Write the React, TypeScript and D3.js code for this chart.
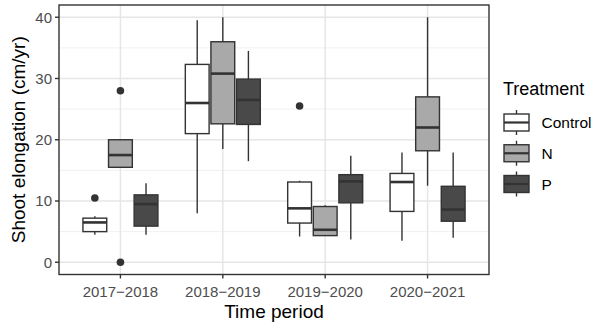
import * as d3 from "d3";

const categories = ["2017−2018", "2018−2019", "2019−2020", "2020−2021"];
const treatments = ["Control", "N", "P"];
const fills = ["#ffffff", "#a9a9a9", "#494949"];

// [lower whisker, q1, median, q3, upper whisker] per period
const controlStats = [
  [4.5, 5.0, 6.5, 7.2, 7.5],
  [8.0, 21.0, 26.0, 32.3, 39.5],
  [4.2, 6.4, 8.8, 13.1, 13.3],
  [3.5, 8.3, 13.1, 14.5, 17.9],
];
const nStats = [
  [15.5, 15.5, 17.5, 20.0, 20.0],
  [18.5, 22.6, 30.8, 36.0, 40.0],
  [4.3, 4.35, 5.3, 9.1, 9.3],
  [12.5, 18.2, 22.0, 27.0, 40.0],
];
const pStats = [
  [4.5, 5.9, 9.5, 11.0, 12.9],
  [16.5, 22.5, 26.5, 29.9, 34.5],
  [3.7, 9.7, 13.2, 14.3, 17.4],
  [4.0, 6.7, 8.6, 12.4, 17.9],
];
const controlOutliers = [[10.5], [], [25.5], []];
const nOutliers = [[28, 0], [], [], []];
const pOutliers = [[], [], [], []];

const yTicks = [0, 10, 20, 30, 40];
const yMinor = [5, 15, 25, 35];

const W = 592;
const H = 327;
const panel = { left: 59, right: 489, top: 5, bottom: 274.5 };
const FONT = "'Liberation Sans', Arial, Helvetica, sans-serif";
const INK = "#333333";

export default function App() {
  const x = d3
    .scalePoint<string>()
    .domain(categories)
    .range([panel.left, panel.right])
    .padding(0.6);
  const step = x.step();
  const dodge = d3
    .scaleBand<string>()
    .domain(treatments)
    .range([-0.375 * step, 0.375 * step]);
  const boxW = dodge.bandwidth() * 0.93;
  const y = d3.scaleLinear().domain([-2, 42]).range([panel.bottom, panel.top]);

  const allStats = [controlStats, nStats, pStats];
  const allOut = [controlOutliers, nOutliers, pOutliers];

  const legendY = d3.scalePoint<string>().domain(treatments).range([122.5, 184]);

  return (
    <svg
      width={W}
      height={H}
      style={{ position: "absolute", left: 0, top: 0, background: "#fff" }}
      fontFamily={FONT}
    >
      <rect x={0} y={0} width={W} height={H} fill="#fff" />
      {/* grid */}
      {yMinor.map((t) => (
        <line key={"mn" + t} x1={panel.left} x2={panel.right} y1={y(t)} y2={y(t)} stroke="#ececec" strokeWidth={0.8} />
      ))}
      {yTicks.map((t) => (
        <line key={"mj" + t} x1={panel.left} x2={panel.right} y1={y(t)} y2={y(t)} stroke="#e6e6e6" strokeWidth={1.5} />
      ))}
      {categories.map((c) => (
        <line key={"vx" + c} x1={x(c)} x2={x(c)} y1={panel.top} y2={panel.bottom} stroke="#e6e6e6" strokeWidth={1.5} />
      ))}

      {/* boxes */}
      {categories.map((c, ci) =>
        treatments.map((t, ti) => {
          const s = allStats[ti][ci];
          const cx = (x(c) ?? 0) + (dodge(t) ?? 0) + dodge.bandwidth() / 2;
          return (
            <g key={c + t}>
              <line x1={cx} x2={cx} y1={y(s[0])} y2={y(s[1])} stroke={INK} strokeWidth={1.4} />
              <line x1={cx} x2={cx} y1={y(s[3])} y2={y(s[4])} stroke={INK} strokeWidth={1.4} />
              <rect
                x={cx - boxW / 2}
                y={y(s[3])}
                width={boxW}
                height={y(s[1]) - y(s[3])}
                fill={fills[ti]}
                stroke={INK}
                strokeWidth={1.4}
              />
              <line x1={cx - boxW / 2} x2={cx + boxW / 2} y1={y(s[2])} y2={y(s[2])} stroke={INK} strokeWidth={2.6} />
              {allOut[ti][ci].map((o, oi) => (
                <circle key={oi} cx={cx} cy={y(o)} r={3.8} fill={INK} />
              ))}
            </g>
          );
        })
      )}

      {/* panel border */}
      <rect
        x={panel.left}
        y={panel.top}
        width={panel.right - panel.left}
        height={panel.bottom - panel.top}
        fill="none"
        stroke={INK}
        strokeWidth={1.4}
      />

      {/* y axis */}
      {yTicks.map((t) => (
        <g key={"yt" + t}>
          <line x1={panel.left - 4} x2={panel.left} y1={y(t)} y2={y(t)} stroke={INK} strokeWidth={1.4} />
          <text x={panel.left - 7} y={y(t)} dy="0.36em" textAnchor="end" fontSize={15} fill="#4d4d4d">
            {t}
          </text>
        </g>
      ))}
      {/* x axis */}
      {categories.map((c) => (
        <g key={"xt" + c}>
          <line x1={x(c)} x2={x(c)} y1={panel.bottom} y2={panel.bottom + 4} stroke={INK} strokeWidth={1.4} />
          <text x={x(c)} y={296.5} textAnchor="middle" fontSize={15} fill="#4d4d4d">
            {c}
          </text>
        </g>
      ))}

      <text x={(panel.left + panel.right) / 2} y={318} textAnchor="middle" fontSize={19} fill="#000">
        Time period
      </text>
      <text
        transform={`translate(24.5, ${(panel.top + panel.bottom) / 2}) rotate(-90)`}
        textAnchor="middle"
        fontSize={19}
        fill="#000"
      >
        Shoot elongation (cm/yr)
      </text>

      {/* legend */}
      <text x={503} y={95} fontSize={18} fill="#000">
        Treatment
      </text>
      {treatments.map((t, ti) => {
        const cy = legendY(t) ?? 0;
        const kx = 516.5;
        return (
          <g key={"lg" + t}>
            <line x1={kx} x2={kx} y1={cy - 12.5} y2={cy + 12.5} stroke={INK} strokeWidth={1.4} />
            <rect x={kx - 12.5} y={cy - 8.5} width={25} height={17} fill={fills[ti]} stroke={INK} strokeWidth={1.4} />
            <line x1={kx - 12.5} x2={kx + 12.5} y1={cy} y2={cy} stroke={INK} strokeWidth={2.2} />
            <text x={541.5} y={cy} dy="0.36em" fontSize={15.5} fill="#000">
              {t}
            </text>
          </g>
        );
      })}
    </svg>
  );
}
